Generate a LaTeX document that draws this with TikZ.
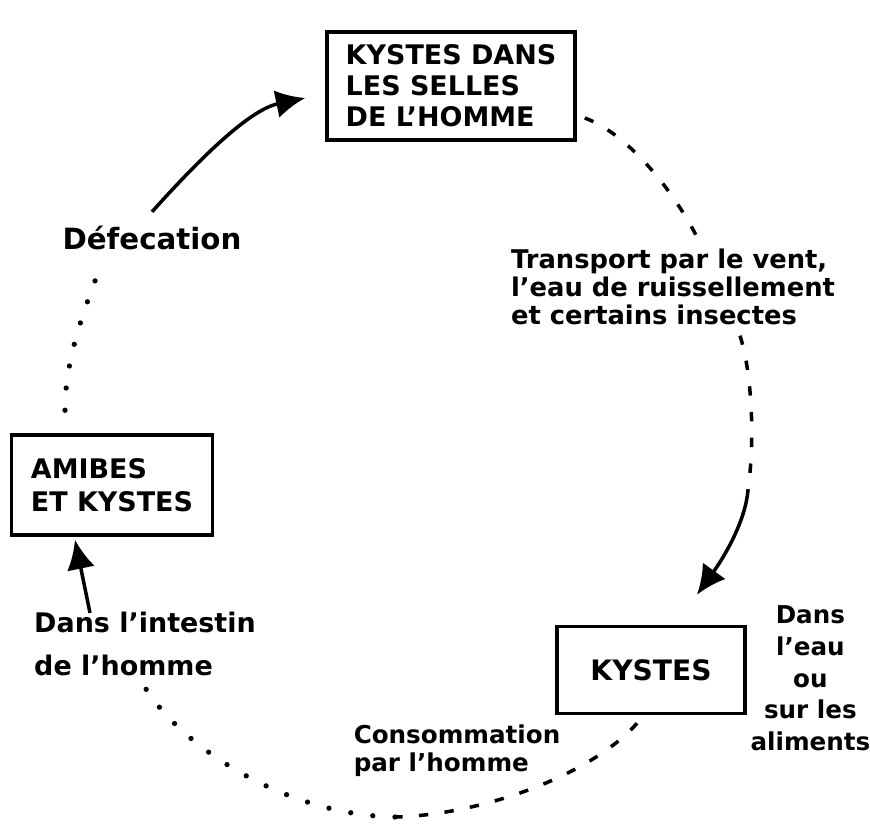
\documentclass[tikz,border=0pt]{standalone}
\usepackage{fontspec}
\setmainfont{DejaVu Sans}
\usetikzlibrary{positioning,arrows.meta,calc}
\newcommand{\lblfont}{\fontsize{23}{26}\selectfont\bfseries}

\begin{document}
\begin{tikzpicture}[
  x=0.03cm, y=-0.03cm,
  box/.style={draw=black, line width=3pt, align=left, font=\lblfont},
  lbl/.style={font=\lblfont, align=left, inner sep=2pt},
  flow/.style={-{Latex[length=25pt, width=24pt]}, line width=3pt},
  dashline/.style={line width=3pt, dash pattern=on 8pt off 14pt},
  dotline/.style={line width=4.5pt, line cap=round, dash pattern=on 0pt off 19pt},
]
\useasboundingbox (0,0) rectangle (870,832);

% the three stages
\node[box, minimum width=7.44cm, minimum height=3.24cm,
      font=\fontsize{23}{26.5}\selectfont\bfseries] (selles) at (451,86)
  {KYSTES DANS\\LES SELLES\\DE L'HOMME};
\node[box, minimum width=6.03cm, minimum height=3cm] (amibes) at (112,485)
  {AMIBES\\[2pt]ET KYSTES};
\node[box, minimum width=5.64cm, minimum height=2.61cm,
      font=\fontsize{24}{26}\selectfont\bfseries] (kystes) at (651,670) {KYSTES};

% labels
\node[lbl, font=\fontsize{25}{28}\selectfont\bfseries] (defec) at (152,238) {Défecation};
\node[lbl, font=\fontsize{22}{24}\selectfont\bfseries] (transport) at (673,287)
  {Transport par le vent,\\l'eau de ruissellement\\et certains insectes};
\node[lbl] (intestin) at (145,644) {Dans l'intestin\\[10pt]de l'homme};
\node[lbl, font=\fontsize{21}{24}\selectfont\bfseries] (consom) at (457,751)
  {Consommation\\par l'homme};
\node[lbl, font=\fontsize{21}{27}\selectfont\bfseries, align=center,
      right=1pt of kystes, yshift=-7pt] (eau) {Dans\\l'eau\\ou\\sur les\\aliments};

\coordinate (turn) at (748,490);
\coordinate (low) at (395,817);

% the cycle
\draw[flow] ([yshift=10pt]defec.north) .. controls +(45,-50) and +(-57,12)
  .. ($(selles.west)+(-20,12)$);
\draw[dashline] ($(selles.east)+(8,32)$) .. controls +(47,17) and +(-20,-43)
  .. ($(transport.north)+(27,-3)$);
\draw[dashline] ($(transport.south)+(67,8)$) .. controls +(12,37) and +(7,-50) .. (turn);
\draw[flow] (turn) .. controls +(-3,35) and +(23,-32) .. ($(kystes.north)+(46,-30)$);
\draw[dashline] ($(kystes.south)+(-14,8)$) .. controls +(-47,53) and +(85,-2) .. (low);
\draw[dotline] (low) .. controls +(-115,-2) and +(32,65) .. ($(intestin.south)+(-7,-3)$);
\draw[flow] ($(intestin.north)+(-55,3)$) -- ($(amibes.south)+(-37,3)$);
\draw[dotline] ($(amibes.north)+(-47,-23)$) .. controls +(0,-52) and +(-17,45)
  .. ($(defec.south)+(-50,10)$);
\end{tikzpicture}
\end{document}
